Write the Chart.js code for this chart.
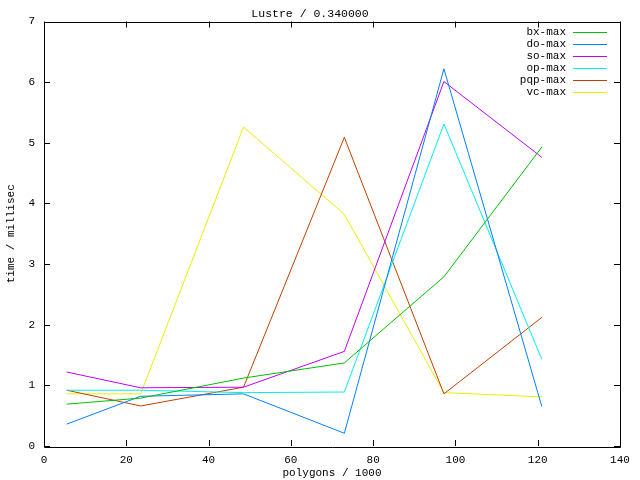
<!DOCTYPE html>
<html>
<head>
<meta charset="utf-8">
<script src="https://cdn.jsdelivr.net/npm/chart.js@4"></script>
<style>
  html, body { margin: 0; padding: 0; background: #fff; }
  #wrap { width: 640px; height: 480px; }
</style>
</head>
<body>
<div id="wrap"><canvas id="myChart" width="640" height="480"></canvas></div>
<script>
// polygons / 1000
var xs = [5.5, 23.5, 48.5, 73, 97.2, 121];

var names = ['bx-max', 'do-max', 'so-max', 'op-max', 'pqp-max', 'vc-max'];
var colors = ['#00c000', '#0080ff', '#c000ff', '#00eeee', '#c04000', '#eeee00'];

// time / millisec
var bxMax  = [0.69, 0.79, 1.12, 1.37, 2.79, 4.93];
var doMax  = [0.36, 0.82, 0.86, 0.21, 6.22, 0.65];
var soMax  = [1.22, 0.96, 0.97, 1.56, 6.01, 4.76];
var opMax  = [0.92, 0.92, 0.88, 0.89, 5.31, 1.43];
var pqpMax = [0.92, 0.66, 0.97, 5.09, 0.86, 2.12];
var vcMax  = [0.86, 0.86, 5.26, 3.82, 0.88, 0.81];

var xTicks = [0, 20, 40, 60, 80, 100, 120, 140];
var yTicks = [0, 1, 2, 3, 4, 5, 6, 7];

var FONT = "'Liberation Mono', 'DejaVu Sans Mono', monospace";

var series = [bxMax, doMax, soMax, opMax, pqpMax, vcMax];

var datasets = series.map(function (vals, i) {
    return {
        label: names[i],
        data: vals.map(function (v, j) { return {x: xs[j], y: v}; }),
        borderColor: colors[i],
        backgroundColor: colors[i],
        borderWidth: 1,
        pointRadius: 0,
        showLine: true,
        tension: 0,
        fill: false
    };
});

// gnuplot style frame with inward ticks on all four sides, plus the key
var gnuplotFrame = {
    id: 'gnuplotFrame',
    afterDatasetsDraw: function (chart) {
        var ctx = chart.ctx;
        var a = chart.chartArea;
        var sx = chart.scales.x, sy = chart.scales.y;
        var t = 6;
        ctx.save();
        ctx.strokeStyle = '#000';
        ctx.lineWidth = 1;
        ctx.beginPath();
        ctx.rect(Math.round(a.left) + 0.5, Math.round(a.top) + 0.5,
                 Math.round(a.right - a.left), Math.round(a.bottom - a.top));
        xTicks.forEach(function (v) {
            var px = Math.round(sx.getPixelForValue(v)) + 0.5;
            ctx.moveTo(px, a.bottom); ctx.lineTo(px, a.bottom - t);
            ctx.moveTo(px, a.top); ctx.lineTo(px, a.top + t);
        });
        yTicks.forEach(function (v) {
            var py = Math.round(sy.getPixelForValue(v)) + 0.5;
            ctx.moveTo(a.left, py); ctx.lineTo(a.left + t, py);
            ctx.moveTo(a.right, py); ctx.lineTo(a.right - t, py);
        });
        ctx.stroke();

        // key, top right inside the plot
        ctx.font = '11px ' + FONT;
        ctx.textAlign = 'right';
        ctx.textBaseline = 'middle';
        names.forEach(function (n, i) {
            var y = 32.5 + 12 * i;
            ctx.fillStyle = '#000';
            ctx.fillText(n, 566, y);
            ctx.strokeStyle = colors[i];
            ctx.beginPath();
            ctx.moveTo(573, y);
            ctx.lineTo(607, y);
            ctx.stroke();
        });
        ctx.restore();
    }
};

var ctx = document.getElementById('myChart').getContext('2d');
var myChart = new Chart(ctx, {
    type: 'scatter',
    data: {datasets: datasets},
    options: {
        responsive: false,
        animation: false,
        devicePixelRatio: 1,
        layout: {padding: {left: 0, right: 20, top: 0, bottom: 0}},
        plugins: {
            legend: {display: false},
            tooltip: {enabled: false},
            title: {
                display: true,
                text: 'Lustre / 0.340000',
                color: '#000',
                font: {family: FONT, size: 11.5, weight: 'normal', lineHeight: 1},
                padding: {top: 8, bottom: 2}
            }
        },
        scales: {
            x: {
                type: 'linear',
                min: 0, max: 140,
                afterFit: function (s) { s.height = 34; },
                afterBuildTicks: function (s) { s.ticks = xTicks.map(function (v) { return {value: v}; }); },
                grid: {display: false, drawTicks: false},
                border: {display: false},
                ticks: {color: '#000', padding: 7, maxRotation: 0, font: {family: FONT, size: 11}},
                title: {
                    display: true,
                    text: 'polygons / 1000',
                    color: '#000',
                    font: {family: FONT, size: 11},
                    padding: {top: 0, bottom: 0}
                }
            },
            y: {
                type: 'linear',
                min: 0, max: 7,
                afterFit: function (s) { s.width = 44; },
                afterBuildTicks: function (s) { s.ticks = yTicks.map(function (v) { return {value: v}; }); },
                grid: {display: false, drawTicks: false},
                border: {display: false},
                ticks: {color: '#000', padding: 9, font: {family: FONT, size: 11}},
                title: {
                    display: true,
                    text: 'time / millisec',
                    color: '#000',
                    font: {family: FONT, size: 11},
                    padding: {top: 4, bottom: 0}
                }
            }
        }
    },
    plugins: [gnuplotFrame]
});
</script>
</body>
</html>
